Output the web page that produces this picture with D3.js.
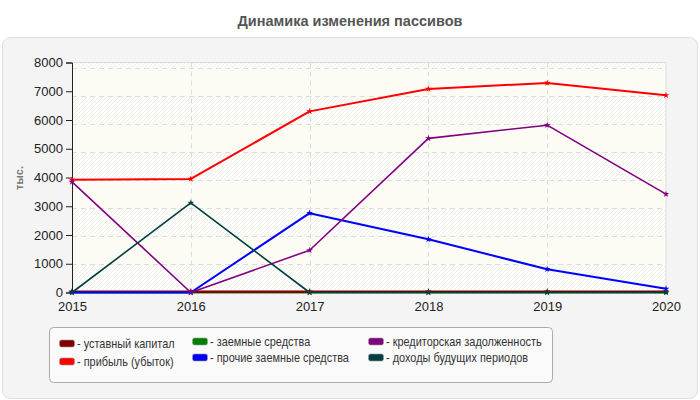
<!DOCTYPE html>
<html>
<head>
<meta charset="utf-8">
<script src="https://cdn.jsdelivr.net/npm/d3@7"></script>
<style>
  body { margin: 0; background: #fff; }
  svg { display: block; font-family: "Liberation Sans", Arial, sans-serif; }
</style>
</head>
<body>
<svg id="chart" width="700" height="400"></svg>
<script>
// data
const years = [2015, 2016, 2017, 2018, 2019, 2020]
const ustavnyi = [30, 30, 30, 30, 30, 30]
const pribyl = [3920, 3950, 6300, 7080, 7290, 6860]
const zaemnye = [0, 0, 0, 0, 0, 0]
const prochie = [0, 0, 2760, 1850, 810, 130]
const kreditor = [3850, 0, 1470, 5360, 5820, 3420]
const dokhody = [0, 3120, 0, 0, 0, 0]
const yTicks = [0, 1000, 2000, 3000, 4000, 5000, 6000, 7000, 8000]

const seriesNames = ['уставный капитал', 'прибыль (убыток)', 'заемные средства',
    'прочие заемные средства', 'кредиторская задолженность', 'доходы будущих периодов']
const seriesValues = [ustavnyi, pribyl, zaemnye, prochie, kreditor, dokhody]
const seriesColors = ['#800000', '#ff0000', '#008000', '#0000ff', '#800080', '#004040']
const seriesWidths = [2.5, 2, 2, 2, 1.6, 1.6]
// green sits under everything, the rest in legend order
const drawOrder = [2, 0, 1, 3, 4, 5]

const svg = d3.select('#chart')

// outer panel
svg.append('rect')
    .attr('x', 2.5).attr('y', 37.5)
    .attr('width', 695).attr('height', 361)
    .attr('rx', 8)
    .attr('fill', '#f4f4f4')
    .attr('stroke', '#dedede')

svg.append('text')
    .attr('x', 350).attr('y', 26)
    .attr('text-anchor', 'middle')
    .attr('font-size', 14.5).attr('font-weight', 'bold')
    .attr('fill', '#555')
    .text('Динамика изменения пассивов')

const x = d3.scalePoint().domain(years).range([72, 666])
const y = d3.scaleLinear().domain([0, 8000]).range([292.5, 62.5])

// hatch pattern
const defs = svg.append('defs')
const pat = defs.append('pattern')
    .attr('id', 'hatch')
    .attr('patternUnits', 'userSpaceOnUse')
    .attr('width', 4).attr('height', 4)
pat.append('rect').attr('width', 4).attr('height', 4).attr('fill', '#fdfdfa')
pat.append('path')
    .attr('d', 'M-1,1 l2,-2 M0,4 l4,-4 M3,5 l2,-2')
    .attr('stroke', '#ebebeb').attr('stroke-width', 0.8)

// plot background: plain fill, then alternating hatched bands
svg.append('rect')
    .attr('x', x.range()[0]).attr('y', y(8000))
    .attr('width', x.range()[1] - x.range()[0])
    .attr('height', y(0) - y(8000))
    .attr('fill', '#fcfcf4')

// grid bands run on their own step, not on the axis ticks
const gridStep = 975
const gridLines = d3.range(gridStep, 8000, gridStep)
const bands = d3.range(0, 8000, gridStep).filter((d, i) => i % 2 === 0)
svg.append('g').selectAll('rect')
    .data(bands)
    .join('rect')
    .attr('x', x.range()[0])
    .attr('y', d => y(Math.min(d + gridStep, 8000)))
    .attr('width', x.range()[1] - x.range()[0])
    .attr('height', d => y(d) - y(Math.min(d + gridStep, 8000)))
    .attr('fill', 'url(#hatch)')

svg.append('g').selectAll('line')
    .data(gridLines)
    .join('line')
    .attr('x1', x.range()[0]).attr('x2', x.range()[1])
    .attr('y1', d => Math.round(y(d)) + 0.5).attr('y2', d => Math.round(y(d)) + 0.5)
    .attr('stroke', '#dcdcdc').attr('stroke-dasharray', '5,4')

svg.append('g').selectAll('line')
    .data(years.slice(1, -1))
    .join('line')
    .attr('x1', d => Math.round(x(d)) + 0.5).attr('x2', d => Math.round(x(d)) + 0.5)
    .attr('y1', y(8000)).attr('y2', y(0))
    .attr('stroke', '#dcdcdc').attr('stroke-dasharray', '5,4')

// top and right border of plot
svg.append('path')
    .attr('d', `M${x.range()[0]},${y(8000)}H${x.range()[1]}V${y(0)}`)
    .attr('fill', 'none').attr('stroke', '#dddddd')

// axes
const yAxis = svg.append('g')
    .attr('transform', `translate(${x.range()[0]},0)`)
    .call(d3.axisLeft(y).tickValues(yTicks).tickFormat(d3.format('d')).tickSize(6).tickPadding(3))
const xAxis = svg.append('g')
    .attr('transform', `translate(0,${y(0)})`)
    .call(d3.axisBottom(x).tickSize(0).tickPadding(9))
xAxis.select('.domain').remove()
yAxis.select('.domain').attr('stroke', '#222')
yAxis.selectAll('line').attr('stroke', '#222')
svg.selectAll('.tick text').attr('font-size', 13).attr('fill', '#222')
    .attr('font-family', '"Liberation Sans", Arial, sans-serif')

svg.append('text')
    .attr('transform', 'translate(23,178) rotate(-90)')
    .attr('text-anchor', 'middle')
    .attr('font-size', 11).attr('font-weight', 'bold')
    .attr('fill', '#777')
    .text('тыс.')

// lines
const line = d3.line().x((d, i) => x(years[i])).y(d => y(d))
const star = d3.symbol().type(d3.symbolStar).size(14)

drawOrder.forEach(s => {
    const vals = seriesValues[s]
    svg.append('path')
        .datum(vals)
        .attr('d', line)
        .attr('fill', 'none')
        .attr('stroke', seriesColors[s])
        .attr('stroke-width', seriesWidths[s])
        .attr('stroke-linejoin', 'round')
    svg.append('g').selectAll('path')
        .data(vals)
        .join('path')
        .attr('transform', (d, i) => `translate(${x(years[i])},${y(d)})`)
        .attr('d', star)
        .attr('fill', seriesColors[s])
})

// legend
svg.append('rect')
    .attr('x', 49.5).attr('y', 327.5)
    .attr('width', 503).attr('height', 55)
    .attr('rx', 4)
    .attr('fill', '#fafafa')
    .attr('stroke', '#aaaaaa')

const legCols = [59, 192, 368]
const legRows = [[343.5, 361.5], [341.5, 357.5], [341.5, 357.5]]
seriesNames.forEach((name, s) => {
    const c = Math.floor(s / 2), r = s % 2
    const g = svg.append('g')
        .attr('transform', `translate(${legCols[c]},${legRows[c][r]})`)
    g.append('rect')
        .attr('x', 0.5).attr('y', -3.5)
        .attr('width', 15).attr('height', 7)
        .attr('rx', 2)
        .attr('fill', seriesColors[s])
        .attr('stroke', '#999').attr('stroke-width', 0.6)
    // the original legend font is a narrow face; squeeze the regular one
    g.append('text')
        .attr('transform', 'translate(18,4.5) scale(0.84,1)')
        .attr('font-size', 13)
        .attr('fill', '#333')
        .text('- ' + name)
})
</script>
</body>
</html>
